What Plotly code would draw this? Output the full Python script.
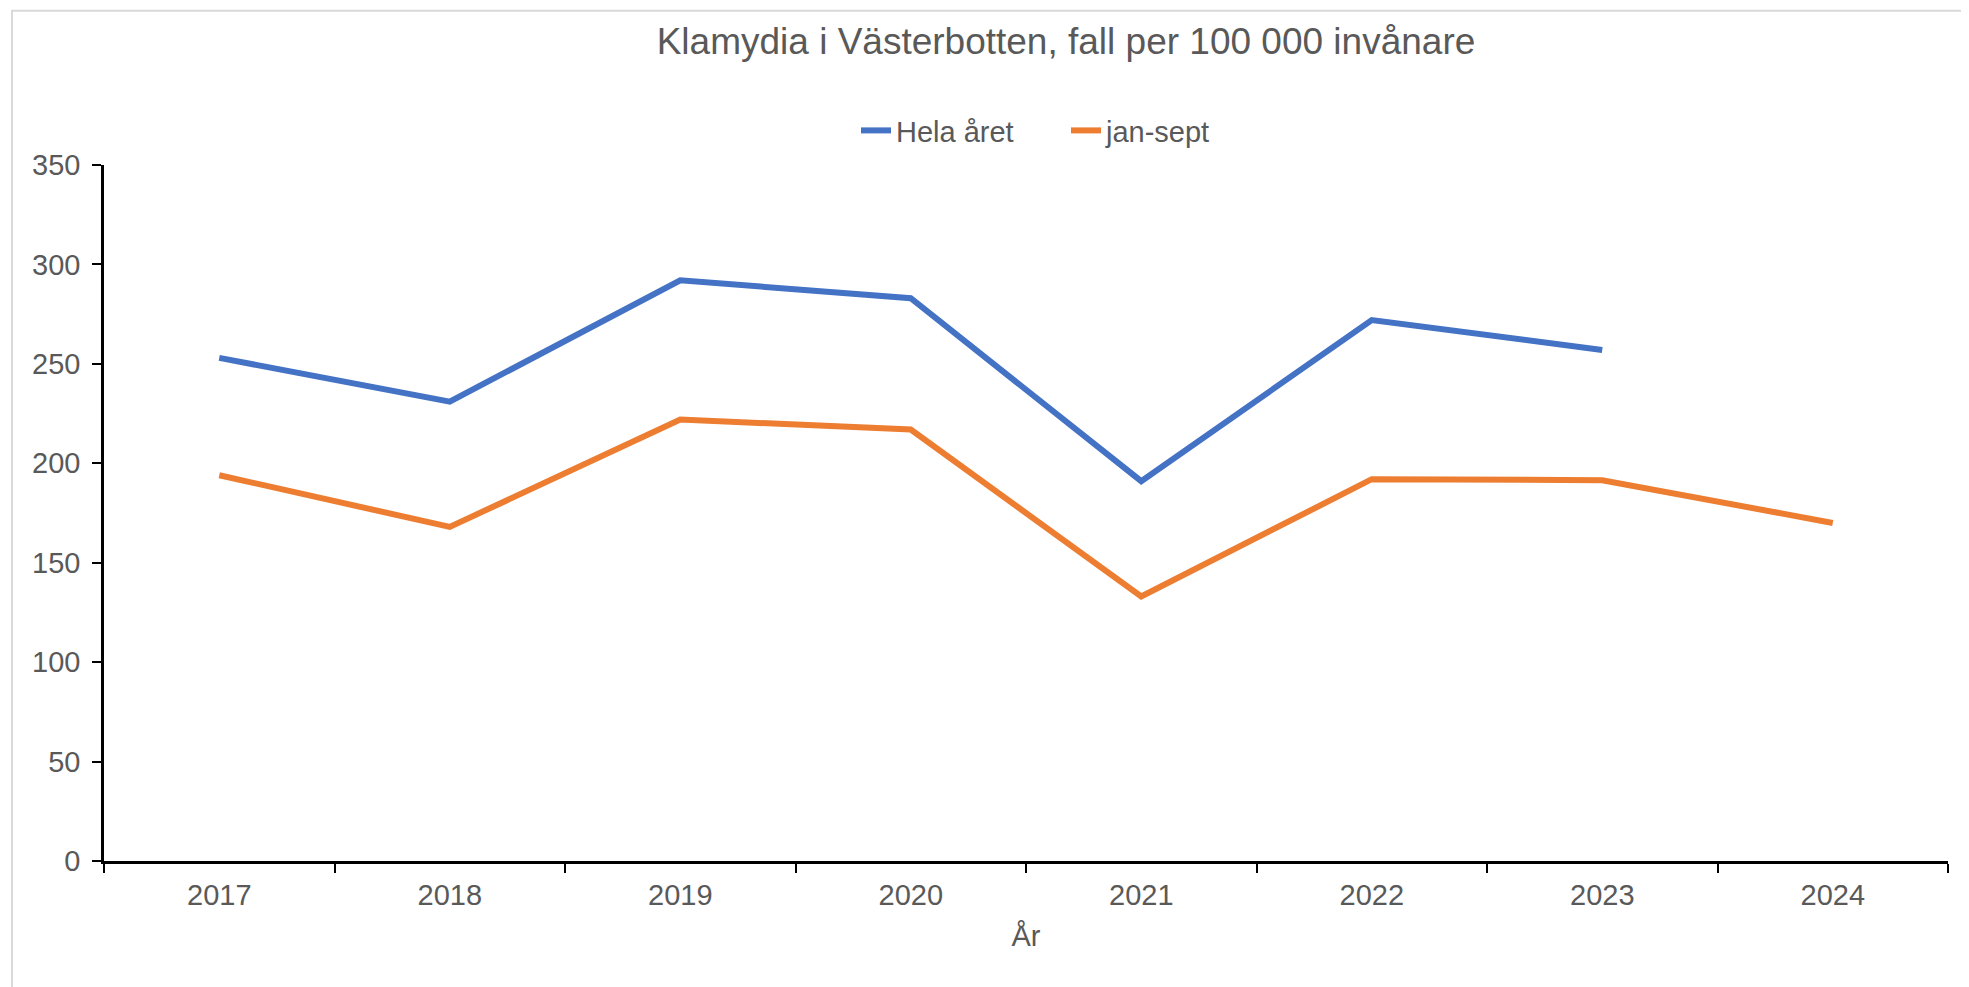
import plotly.graph_objects as go

years = ['2017', '2018', '2019', '2020', '2021', '2022', '2023', '2024']
hela_aret = [253, 231, 292, 283, 191, 272, 257, None]
jan_sept = [194, 168, 222, 217, 133, 192, 191.5, 170]
y_ticks = [0, 50, 100, 150, 200, 250, 300, 350]

FONT = 'Liberation Sans, Arial, sans-serif'
GREY = '#595959'

fig = go.Figure()
fig.add_trace(go.Scatter(x=years, y=hela_aret, name='Hela året', mode='lines',
                         line=dict(color='#4472C4', width=6), connectgaps=False))
fig.add_trace(go.Scatter(x=years, y=jan_sept, name='jan-sept', mode='lines',
                         line=dict(color='#ED7D31', width=6)))

# page body has an 8px margin, so shift everything back by 8
OFF = 8
W, H = 1969 - OFF, 987 - OFF
L, R, T, B = 104 - OFF, 21, 164.5 - OFF, 125.5
pw, ph = W - L - R, H - T - B

fig.update_layout(
    width=W, height=H,
    margin=dict(l=L, r=R, t=T, b=B),
    paper_bgcolor='white', plot_bgcolor='white',
    font=dict(family=FONT, color=GREY, size=29),
    title=dict(text='Klamydia i Västerbotten, fall per 100 000 invånare',
               x=(1066 - OFF) / W, xref='container', xanchor='center',
               y=1 - (41 - OFF) / H, yanchor='middle',
               font=dict(size=37, color=GREY)),
    legend=dict(orientation='h', x=0.5 + 40 / pw, xanchor='center', y=(861.5 - 130) / ph,
                yanchor='middle', font=dict(size=29, color=GREY), bgcolor='rgba(0,0,0,0)',
                entrywidth=165, entrywidthmode='pixels'),
    showlegend=True,
)

fig.update_xaxes(type='category', range=[-0.5, 7.5], tickson='boundaries',
                 ticks='outside', ticklen=9, tickwidth=1.5, tickcolor='black',
                 showline=True, linecolor='black', linewidth=2.5, showgrid=False,
                 tickfont=dict(size=29, color=GREY), ticklabelstandoff=6,
                 title=dict(text='År', font=dict(size=29, color=GREY), standoff=17))
fig.update_yaxes(range=[0, 350], tickvals=y_ticks, ticks='outside', ticklen=9,
                 tickwidth=1.5, tickcolor='black', showline=True, linecolor='black',
                 linewidth=2.5, showgrid=False, zeroline=False,
                 tickfont=dict(size=29, color=GREY), ticklabelstandoff=6)

# light chart-area border
fig.add_shape(type='rect', xref='paper', yref='paper',
              x0=(12 - 104) / pw, x1=(1969 + 5 - 104) / pw,
              y0=(861.5 - (987 + 5)) / ph, y1=(861.5 - 10) / ph,
              line=dict(color='#D9D9D9', width=2), fillcolor='rgba(0,0,0,0)', layer='below')

fig.write_html('out.html')
